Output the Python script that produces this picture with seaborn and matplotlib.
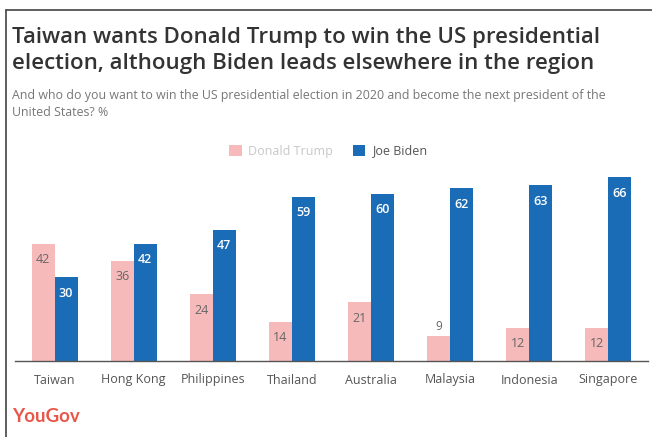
import matplotlib
matplotlib.use("Agg")
import matplotlib.pyplot as plt
import seaborn as sns
import pandas as pd
from matplotlib.lines import Line2D
from matplotlib.patches import Patch

countries = ["Taiwan", "Hong Kong", "Philippines", "Thailand", "Australia",
             "Malaysia", "Indonesia", "Singapore"]
trump = [42, 36, 24, 14, 21, 9, 12, 12]
biden = [30, 42, 47, 59, 60, 62, 63, 66]
series = ["Donald Trump", "Joe Biden"]
colors = ["#F7BABA", "#1A6CB6"]

df = pd.DataFrame({
    "country": countries * 2,
    "value": trump + biden,
    "candidate": [series[0]] * len(countries) + [series[1]] * len(countries),
})

sns.set_theme(style="white")
plt.rcParams["font.family"] = ["Open Sans", "DejaVu Sans"]

W, H = 652, 437
fig = plt.figure(figsize=(W / 100, H / 100), dpi=100)
fig.patch.set_facecolor("white")

def fx(px):
    return px / W

def fy(py):
    return 1 - py / H

ax = fig.add_axes([fx(15), fy(361), fx(648) - fx(15), fy(140) - fy(361)])
sns.barplot(data=df, x="country", y="value", hue="candidate",
            palette=colors, width=0.58, gap=0, ax=ax, legend=False,
            saturation=1, edgecolor="none")
ax.set_xlim(-0.5, 7.5)
ax.set_ylim(0, 79.3)
ax.set_xlabel("")
ax.set_ylabel("")
ax.set_yticks([])
for s in ["top", "right", "left"]:
    ax.spines[s].set_visible(False)
ax.spines["bottom"].set_color("#555555")
ax.spines["bottom"].set_linewidth(1.0)
ax.tick_params(axis="x", length=0, pad=9, labelsize=9, labelcolor="#555555")
ax.set_facecolor("white")

# value labels
for ci, cont in enumerate(ax.containers):
    vals = trump if ci == 0 else biden
    for bar, v in zip(cont, vals):
        cx = bar.get_x() + bar.get_width() / 2
        top = bar.get_height()
        if v < 11:
            ax.annotate(f"{v}", (cx, top), xytext=(0, 7), textcoords="offset points",
                        ha="center", va="center", fontsize=8.5, color="#666666")
        else:
            ax.annotate(f"{v}", (cx, top), xytext=(0, -11.5), textcoords="offset points",
                        ha="center", va="center", fontsize=9,
                        color="#666666" if ci == 0 else "white",
                        fontweight="normal" if ci == 0 else "semibold")

# legend
handles = [Patch(facecolor=c, edgecolor="none") for c in colors]
leg = fig.legend(handles, series, loc="center", bbox_to_anchor=(fx(328), fy(151)),
                 ncol=2, frameon=False, fontsize=9, handlelength=1.0,
                 handleheight=1.0, handletextpad=0.5, columnspacing=1.6)
leg.get_texts()[0].set_color("#c8c8c8")
leg.get_texts()[1].set_color("#555555")

# titles
fig.text(fx(12), fy(37), "Taiwan wants Donald Trump to win the US presidential",
         fontsize=16, fontweight="semibold", color="#333333", va="center", ha="left")
fig.text(fx(12), fy(64), "election, although Biden leads elsewhere in the region",
         fontsize=16, fontweight="semibold", color="#333333", va="center", ha="left")
fig.text(fx(12), fy(96),
         "And who do you want to win the US presidential election in 2020 and become the next president of the",
         fontsize=8.9, color="#777777", va="center", ha="left")
fig.text(fx(12), fy(113), "United States? %", fontsize=8.9, color="#777777",
         va="center", ha="left")
fig.text(fx(12), fy(417), "YouGov", fontsize=13.5, fontweight="bold", color="#E8574A",
         va="center", ha="left", family=["Lato", "DejaVu Sans"])

# frame lines
fig.add_artist(Line2D([fx(5.5), fx(5.5)], [0, fy(9.5)], color="#444444", lw=1.2,
                      transform=fig.transFigure))
fig.add_artist(Line2D([fx(5.5), 1], [fy(9.5), fy(9.5)], color="#444444", lw=1.2,
                      transform=fig.transFigure))

fig.savefig("out.png", dpi=100)
